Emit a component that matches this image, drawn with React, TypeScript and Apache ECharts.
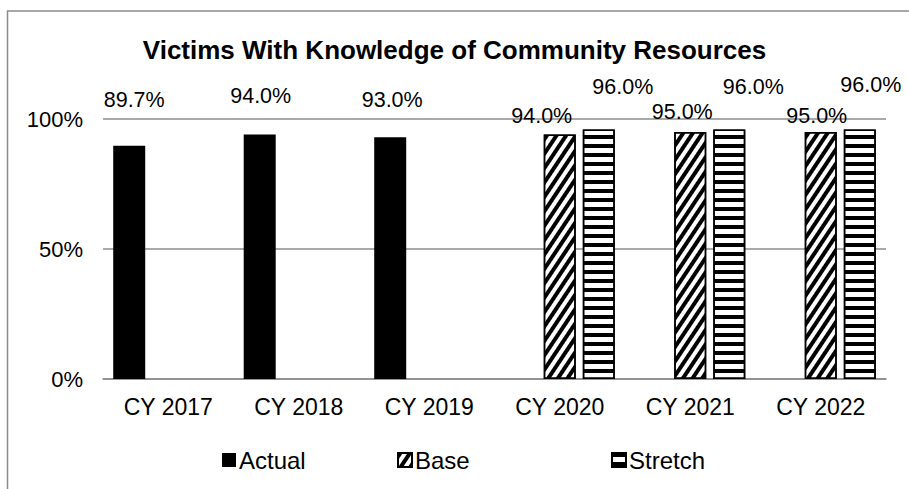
import React, { useEffect, useRef } from "react";
import * as echarts from "echarts";

const categories = ["CY 2017", "CY 2018", "CY 2019", "CY 2020", "CY 2021", "CY 2022"];
const actualValues = [0.897, 0.94, 0.93, null, null, null];
const baseValues = [null, null, null, 0.94, 0.95, 0.95];
const stretchValues = [null, null, null, 0.96, 0.96, 0.96];
const yTicks = [0, 0.5, 1];
const seriesNames = ["Actual", "Base", "Stretch"];

// label placement offsets (style only)
const actualOffsets = [[5, -30], [1, -23], [2, -21], [0, 0], [0, 0], [0, 0]];
const baseOffsets = [[0, 0], [0, 0], [0, 0], [-18, -3], [-8, -4], [-4, 0]];
const stretchOffsets = [[0, 0], [0, 0], [0, 0], [24, -26], [24, -26], [11, -28]];
const legendLefts = [217, 392, 606];

const FONT = "'Liberation Sans', Arial, sans-serif";
const GRAY = "#8c8c8c";

function buildData(values: (number | null)[], offsets: number[][]) {
  return values.map((v, i) =>
    v == null
      ? null
      : {
          value: v,
          label: { offset: offsets[i] },
        }
  );
}

export default function App() {
  const ref = useRef<HTMLDivElement>(null);
  useEffect(() => {
    if (!ref.current) return;
    const chart = echarts.init(ref.current, undefined, { renderer: "svg" });
    const labelStyle = {
      show: true,
      position: "top",
      distance: 5,
      fontSize: 21.5,
      fontFamily: FONT,
      color: "#000",
      formatter: (p: any) => (p.value * 100).toFixed(1) + "%",
    };
    chart.setOption({
      animation: false,
      backgroundColor: "#fff",
      textStyle: { fontFamily: FONT },
      title: {
        text: "Victims With Knowledge of Community Resources",
        left: "center",
        top: 32,
        textStyle: { fontSize: 26, fontWeight: "bold", color: "#000", fontFamily: FONT },
      },
      graphic: [
        {
          type: "rect",
          shape: { x: 7.5, y: 11, width: 1200, height: 1200 },
          style: { fill: "none", stroke: GRAY, lineWidth: 1.5 },
          silent: true,
        },
      ],
      legend: seriesNames.map((n, i) => ({
        left: legendLefts[i],
        top: 443,
        icon: "rect",
        itemWidth: 14,
        itemHeight: 14,
        textStyle: { fontSize: 24, color: "#000", fontFamily: FONT, padding: [0, 0, 0, -2] },
        data: [n],
      })),
      grid: { left: 103, right: 23, top: 119, bottom: 110, containLabel: false },
      xAxis: {
        type: "category",
        data: categories,
        axisLine: { show: true, lineStyle: { color: GRAY, width: 1.5 } },
        axisTick: { show: false },
        axisLabel: { fontSize: 23, color: "#000", margin: 16, fontFamily: FONT },
      },
      yAxis: {
        type: "value",
        min: yTicks[0],
        max: yTicks[yTicks.length - 1],
        interval: yTicks[1] - yTicks[0],
        axisLine: { show: false },
        axisTick: { show: false },
        splitLine: { lineStyle: { color: GRAY, width: 1.5 } },
        axisLabel: {
          fontSize: 22,
          color: "#000",
          margin: 20,
          fontFamily: FONT,
          formatter: (v: number) => Math.round(v * 100) + "%",
        },
      },
      series: [
        {
          name: "Actual",
          type: "bar",
          barWidth: 32,
          barGap: "22%",
          data: buildData(actualValues, actualOffsets),
          itemStyle: { color: "#000" },
          label: labelStyle,
        },
        {
          name: "Base",
          type: "bar",
          barWidth: 32,
          barGap: "22%",
          data: buildData(baseValues, baseOffsets),
          itemStyle: {
            color: "#fff",
            borderColor: "#000",
            borderWidth: 1.5,
            decal: {
              symbol: "rect",
              symbolSize: 1,
              color: "#000",
              backgroundColor: "#fff",
              dashArrayX: [1, 0],
              dashArrayY: [3.5, 4],
              rotation: -Math.PI / 3.2,
            },
          },
          label: labelStyle,
        },
        {
          name: "Stretch",
          type: "bar",
          barWidth: 32,
          barGap: "22%",
          data: buildData(stretchValues, stretchOffsets),
          itemStyle: {
            color: "#fff",
            borderColor: "#000",
            borderWidth: 1.5,
            decal: {
              symbol: "rect",
              symbolSize: 1,
              color: "#000",
              backgroundColor: "#fff",
              dashArrayX: [1, 0],
              dashArrayY: [4, 4.5],
              rotation: 0,
            },
          },
          label: labelStyle,
        },
      ],
    });
    return () => chart.dispose();
  }, []);
  return (
    <div
      ref={ref}
      style={{ position: "fixed", left: 0, top: 0, width: 909, height: 489 }}
    />
  );
}
